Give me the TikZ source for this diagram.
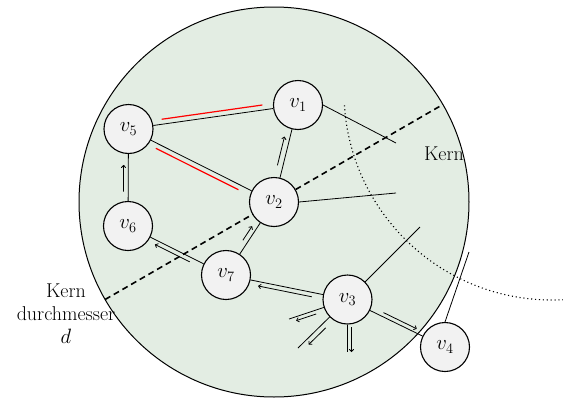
\documentclass[tikz,border=0pt]{standalone}
\usetikzlibrary{calc,arrows.meta}
\definecolor{bggreen}{RGB}{227,237,227}
\definecolor{nodegray}{RGB}{242,242,242}
\newcommand\myoff[6][arr]{\draw[#1] ($(#2)!#4!(#3)!#6!90:(#3)$) -- ($(#2)!#5!(#3)!#6!-90:(#2)$);}
\begin{document}
\begin{tikzpicture}[x=1pt,y=-1pt,
  vtx/.style={circle,draw,line width=1.1pt,fill=nodegray,minimum size=49pt,inner sep=0pt,font=\fontsize{21}{21}\selectfont},
  edge/.style={line width=0.8pt},
  arr/.style={line width=0.8pt,-{To[length=3pt,width=5pt]}},
  redl/.style={line width=1.2pt,red},
  lbl/.style={font=\fontsize{20}{23}\selectfont,align=center}]
\useasboundingbox (0,0) rectangle (563,397);
\coordinate (C) at (274,202);
\draw[line width=1pt,fill=bggreen] (C) circle[radius=195pt];
% dotted arc
\begin{scope}
\clip (0,104) rectangle (563,397);
\coordinate (A0) at (552,92);
\draw[line width=1.1pt,dash pattern=on 1.1pt off 2.8pt] (A0) circle[radius=208pt];
\end{scope}
% diameter
\coordinate (d1) at (105.1,299.5);
\coordinate (d2) at (442.9,104.5);
\draw[line width=1.6pt,dash pattern=on 6pt off 4pt] (d1) -- (d2);
% nodes
\node[vtx] (v1) at (298,105) {$v_1$};
\node[vtx] (v5) at (128.5,129) {$v_5$};
\node[vtx] (v2) at (274,202) {$v_2$};
\node[vtx] (v6) at (128,226) {$v_6$};
\node[vtx] (v7) at (226,275) {$v_7$};
\node[vtx] (v3) at (347.5,299.5) {$v_3$};
\node[vtx] (v4) at (445,347) {$v_4$};
% free ends
\coordinate (e1) at (396,143);
\coordinate (e2) at (396,193);
\coordinate (e3) at (420,227);
\coordinate (e4) at (469,252);
\coordinate (eA) at (289,319);
\coordinate (eB) at (298,348);
\coordinate (eC) at (347.5,352);
% edges
\draw[edge] (v5) -- (v1);
\draw[edge] (v5) -- (v2);
\draw[edge] (v6) -- (v5);
\draw[edge] (v2) -- (v1);
\draw[edge] (v7) -- (v2);
\draw[edge] (v3) -- (v7);
\draw[edge] (v7) -- (v6);
\draw[edge] (v3) -- (v4);
\draw[edge] (v1.east) -- (e1);
\draw[edge] (v2.east) -- (e2);
\draw[edge] (v3) -- (e3);
\draw[edge] (v4.north) -- (e4);
\draw[edge] (v3) -- (eA);
\draw[edge] (v3) -- (eB);
\draw[edge] (v3.south) -- (eC);
% arrows
\myoff{v6}{v5}{0.354}{0.629}{4.7pt}
\myoff{v2}{v1}{0.364}{0.66}{5.5pt}
\myoff{v7}{v2}{0.438}{0.63}{5pt}
\myoff{v3}{v7}{0.286}{0.728}{4.4pt}
\myoff{v7}{v6}{0.35}{0.704}{4.5pt}
\myoff{v3}{v4}{0.351}{0.692}{4pt}
\myoff{v3}{eA}{0.556}{0.897}{3.8pt}
\myoff{v3}{eB}{0.51}{0.856}{5pt}
\myoff{v3}{eC}{0.53}{1.0}{4pt}
% red lines
\myoff[redl]{v5}{v1}{0.2}{0.794}{5pt}
\myoff[redl]{v2}{v5}{0.229}{0.797}{5pt}
% labels
\node[lbl] (kern) at (444,154) {Kern};
\node[lbl] (kd) at (66,314) {Kern\\durchmesser\\$d$};
\end{tikzpicture}
\end{document}
